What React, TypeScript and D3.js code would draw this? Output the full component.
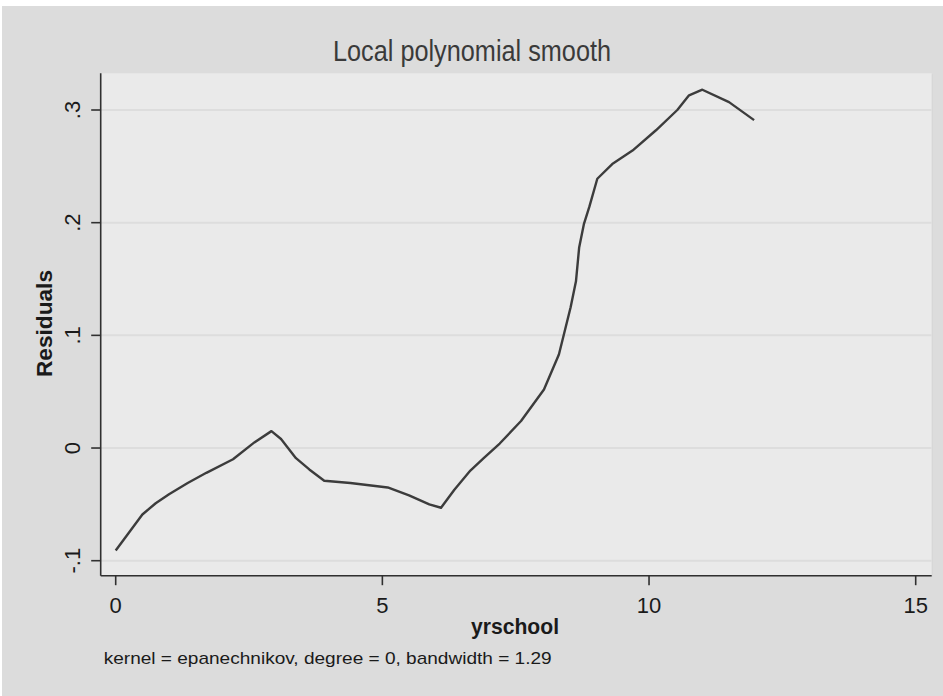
import React from "react";
import * as d3 from "d3";

const xs = [0, 0.25, 0.5, 0.75, 1.0, 1.35, 1.7, 2.2, 2.6, 2.92, 3.1, 3.38, 3.63, 3.91, 4.4, 5.1, 5.5, 5.88, 6.1, 6.35, 6.65, 6.9, 7.2, 7.6, 8.03, 8.31, 8.53, 8.63, 8.69, 8.78, 8.88, 9.03, 9.31, 9.69, 10.13, 10.53, 10.75, 11.0, 11.5, 11.97];
const ys = [-0.091, -0.075, -0.059, -0.049, -0.041, -0.031, -0.022, -0.010, 0.005, 0.015, 0.008, -0.009, -0.019, -0.029, -0.031, -0.035, -0.042, -0.050, -0.053, -0.037, -0.020, -0.009, 0.004, 0.024, 0.052, 0.083, 0.125, 0.148, 0.178, 0.199, 0.214, 0.239, 0.252, 0.264, 0.282, 0.300, 0.313, 0.318, 0.307, 0.291];
const xTicks = [0, 5, 10, 15];
const yTicks = [-0.1, 0, 0.1, 0.2, 0.3];
const yTickLabels = ["-.1", "0", ".1", ".2", ".3"];
const title = "Local polynomial smooth";
const xTitle = "yrschool";
const yTitle = "Residuals";
const note = "kernel = epanechnikov, degree = 0, bandwidth = 1.29";

export default function App() {
  const W = 943, H = 696;
  const plot = { l: 100.7, r: 931.7, t: 73.3, b: 575.7 };
  const x = d3.scaleLinear().domain([0, 15]).range([115.7, 915.7]);
  const y = d3.scaleLinear().domain([-0.1, 0.3]).range([560.7, 110]);
  const pts = xs.map((v, i) => [v, ys[i]] as [number, number]);
  const line = d3.line<[number, number]>().x(d => x(d[0])).y(d => y(d[1])).curve(d3.curveLinear);
  const font = "'Liberation Sans', Arial, sans-serif";
  return (
    <svg width={W} height={H} style={{ position: "absolute", left: 0, top: 0 }} fontFamily={font}>
      <rect x={0} y={0} width={W} height={H} fill="#ffffff" />
      <rect x={2} y={6} width={W - 2} height={H - 6} fill="#dcdcdc" />
      <rect x={plot.l + 1} y={plot.t + 1} width={plot.r - plot.l} height={plot.b - plot.t} fill="#d4d4d4" />
      <rect x={plot.l} y={plot.t} width={plot.r - plot.l} height={plot.b - plot.t} fill="#eaeaea" />
      {yTicks.map((t, i) => (
        <line key={"g" + i} x1={plot.l} x2={plot.r} y1={y(t)} y2={y(t)} stroke="#dddddd" strokeWidth={2} />
      ))}
      <path d={line(pts) || ""} fill="none" stroke="#3c3c3c" strokeWidth={2.4} strokeLinejoin="round" />
      <line x1={plot.l} x2={plot.l} y1={plot.t} y2={plot.b} stroke="#303030" strokeWidth={1.6} />
      <line x1={plot.l} x2={plot.r} y1={plot.b} y2={plot.b} stroke="#303030" strokeWidth={1.6} />
      {yTicks.map((t, i) => (
        <g key={"yt" + i}>
          <line x1={plot.l - 9.5} x2={plot.l} y1={y(t)} y2={y(t)} stroke="#303030" strokeWidth={1.6} />
          <text transform={`translate(80,${y(t)}) rotate(-90)`} textAnchor="middle" fontSize={22} fill="#1a1a1a">{yTickLabels[i]}</text>
        </g>
      ))}
      {xTicks.map((t, i) => (
        <g key={"xt" + i}>
          <line x1={x(t)} x2={x(t)} y1={plot.b} y2={plot.b + 9.5} stroke="#303030" strokeWidth={1.6} />
          <text x={x(t)} y={612.7} textAnchor="middle" fontSize={22} fill="#1a1a1a">{String(t)}</text>
        </g>
      ))}
      <text x={472} y={60.5} textAnchor="middle" fontSize={29} fill="#3a3a3a" textLength={278} lengthAdjust="spacingAndGlyphs">{title}</text>
      <text x={515} y={634} textAnchor="middle" fontSize={22} fontWeight="bold" fill="#1a1a1a" textLength={88} lengthAdjust="spacingAndGlyphs">{xTitle}</text>
      <text transform={`translate(51.7,323.5) rotate(-90)`} textAnchor="middle" fontSize={22} fontWeight="bold" fill="#1a1a1a" textLength={107} lengthAdjust="spacingAndGlyphs">{yTitle}</text>
      <text x={103.7} y={664} fontSize={17} fill="#1a1a1a" textLength={448} lengthAdjust="spacingAndGlyphs">{note}</text>
    </svg>
  );
}
